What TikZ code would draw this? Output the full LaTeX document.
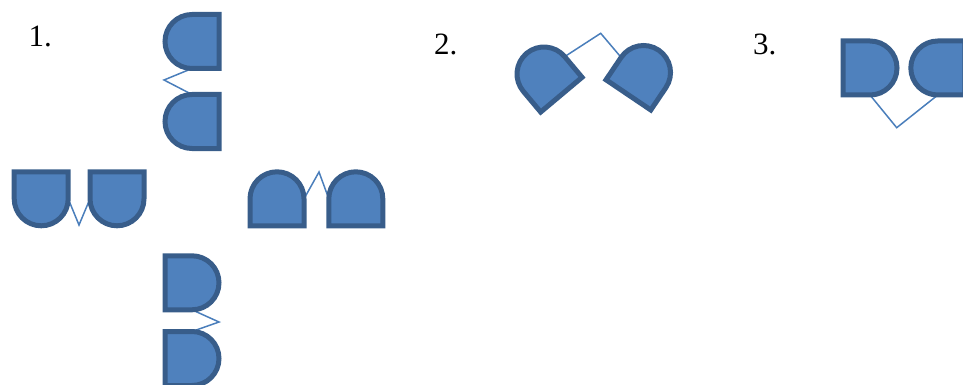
\documentclass[tikz,border=0pt]{standalone}
\usepackage{fontspec}
\setmainfont{Liberation Serif}
\usetikzlibrary{backgrounds}
\definecolor{dfill}{HTML}{4F81BD}
\definecolor{dline}{HTML}{385D8A}
\definecolor{cline}{HTML}{4A7EBB}
\tikzset{
  delay/.pic={
    \draw[dline, fill=dfill, line width=5pt, line join=miter]
      (-27,-27) -- (0,-27) arc[start angle=-90, end angle=90, radius=27] -- (-27,27) -- cycle;
    \coordinate (-n) at (0,27);
    \coordinate (-s) at (0,-27);
    \coordinate (-c) at (0,0);
  },
  conn/.style={cline, line width=1.5pt, line join=miter},
  lbl/.style={anchor=base west, inner sep=0pt, font=\fontsize{31}{31}\selectfont}
}
\begin{document}
\begin{tikzpicture}[x=1pt, y=1pt]
\useasboundingbox (0,0) rectangle (963,-385);
% labels
\node[lbl] (l1) at (28.3,-46.7) {1.};
\node[lbl] (l2) at (434,-55) {2.};
\node[lbl] (l3) at (753,-55) {3.};
% section 1
\pic[rotate=180] (A) at (192,-41.5) {delay};
\pic[rotate=180] (B) at (192,-121.5) {delay};
\pic[rotate=-90] (C) at (41.2,-198.8) {delay};
\pic[rotate=-90] (D) at (117,-198.8) {delay};
\pic[rotate=90] (E) at (277,-198.8) {delay};
\pic[rotate=90] (F) at (355.8,-198.8) {delay};
\pic (G) at (192,-282.8) {delay};
\pic (H) at (192,-358.5) {delay};
% section 2
\pic[rotate=130] (L) at (544,-74) {delay};
\pic[rotate=56] (R) at (643.5,-72.5) {delay};
% section 3
\pic (S) at (870,-68) {delay};
\pic[rotate=180] (T) at (937.8,-68) {delay};
% elbow points
\coordinate (z1) at (164,-80);
\coordinate (z2) at (79,-225);
\coordinate (z3) at (319,-172);
\coordinate (z4) at (219,-322);
\coordinate (z5) at (600.7,-33.3);
\coordinate (z6) at (896.7,-127.7);
\begin{scope}[on background layer]
\draw[conn] (A-n) -- (z1) -- (B-s);
\draw[conn] (C-n) -- (z2) -- (D-s);
\draw[conn] (E-s) -- (z3) -- (F-n);
\draw[conn] (G-s) -- (z4) -- (H-n);
\draw[conn] (L-s) -- (z5) -- (R-n);
\draw[conn] (S-s) -- (z6) -- (T-n);
\end{scope}
\end{tikzpicture}
\end{document}
